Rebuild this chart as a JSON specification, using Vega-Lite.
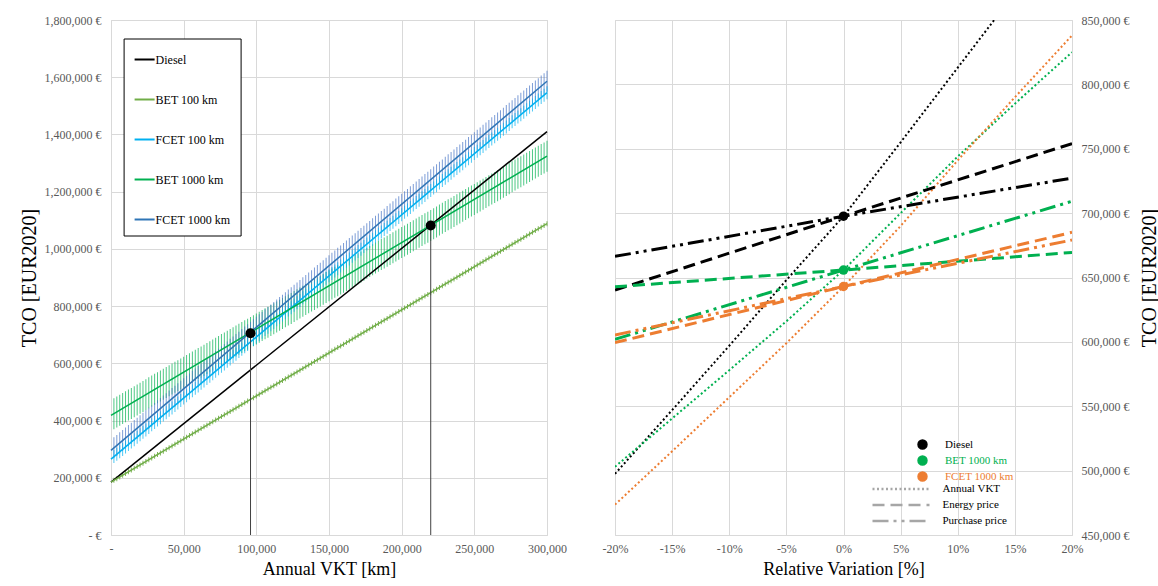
{
"$schema": "https://vega.github.io/schema/vega-lite/v6.json",
"background": "white",
"padding": {"left": 18, "top": 13, "right": 2, "bottom": 2},
"spacing": 68,
"bounds": "flush",
"config": {
  "font": "Liberation Serif",
  "view": {"stroke": "#d9d9d9"},
  "axis": {"labelFont": "Liberation Serif", "titleFont": "Liberation Serif", "labelFontSize": 12, "labelColor": "#595959", "labelFlush": false, "titleFontSize": 18, "titleFontWeight": "normal", "titleColor": "#000000", "gridColor": "#d9d9d9", "domain": false, "ticks": false},
  "legend": {"labelFont": "Liberation Serif", "labelColor": "#000000", "title": null}
},
"datasets": {
  "lines": [
    {"v": 0, "tco": 185000, "series": "Diesel"}, {"v": 300000, "tco": 1410000, "series": "Diesel"},
    {"v": 0, "tco": 185000, "series": "BET 100 km"}, {"v": 300000, "tco": 1088000, "series": "BET 100 km"},
    {"v": 0, "tco": 265000, "series": "FCET 100 km"}, {"v": 300000, "tco": 1546000, "series": "FCET 100 km"},
    {"v": 0, "tco": 418000, "series": "BET 1000 km"}, {"v": 300000, "tco": 1324000, "series": "BET 1000 km"},
    {"v": 0, "tco": 296000, "series": "FCET 1000 km"}, {"v": 300000, "tco": 1586000, "series": "FCET 1000 km"}
  ],
  "dots": [{"v": 96000, "tco": 705000}, {"v": 220000, "tco": 1082000}],
  "ticks": [
{"v":2000,"b1":191000,"f1":274000,"b2":424000,"f2":305000},
{"v":4000,"b1":197000,"f1":282000,"b2":430000,"f2":313000},
{"v":6000,"b1":203000,"f1":291000,"b2":436000,"f2":322000},
{"v":8000,"b1":209000,"f1":299000,"b2":442000,"f2":330000},
{"v":10000,"b1":215000,"f1":308000,"b2":448000,"f2":339000},
{"v":12000,"b1":221000,"f1":316000,"b2":454000,"f2":348000},
{"v":14000,"b1":227000,"f1":325000,"b2":460000,"f2":356000},
{"v":16000,"b1":233000,"f1":333000,"b2":466000,"f2":365000},
{"v":18000,"b1":239000,"f1":342000,"b2":472000,"f2":373000},
{"v":20000,"b1":245000,"f1":350000,"b2":478000,"f2":382000},
{"v":22000,"b1":251000,"f1":359000,"b2":484000,"f2":391000},
{"v":24000,"b1":257000,"f1":367000,"b2":490000,"f2":399000},
{"v":26000,"b1":263000,"f1":376000,"b2":497000,"f2":408000},
{"v":28000,"b1":269000,"f1":385000,"b2":503000,"f2":416000},
{"v":30000,"b1":275000,"f1":393000,"b2":509000,"f2":425000},
{"v":32000,"b1":281000,"f1":402000,"b2":515000,"f2":434000},
{"v":34000,"b1":287000,"f1":410000,"b2":521000,"f2":442000},
{"v":36000,"b1":293000,"f1":419000,"b2":527000,"f2":451000},
{"v":38000,"b1":299000,"f1":427000,"b2":533000,"f2":459000},
{"v":40000,"b1":305000,"f1":436000,"b2":539000,"f2":468000},
{"v":42000,"b1":311000,"f1":444000,"b2":545000,"f2":477000},
{"v":44000,"b1":317000,"f1":453000,"b2":551000,"f2":485000},
{"v":46000,"b1":323000,"f1":461000,"b2":557000,"f2":494000},
{"v":48000,"b1":329000,"f1":470000,"b2":563000,"f2":502000},
{"v":50000,"b1":336000,"f1":479000,"b2":569000,"f2":511000},
{"v":52000,"b1":342000,"f1":487000,"b2":575000,"f2":520000},
{"v":54000,"b1":348000,"f1":496000,"b2":581000,"f2":528000},
{"v":56000,"b1":354000,"f1":504000,"b2":587000,"f2":537000},
{"v":58000,"b1":360000,"f1":513000,"b2":593000,"f2":545000},
{"v":60000,"b1":366000,"f1":521000,"b2":599000,"f2":554000},
{"v":62000,"b1":372000,"f1":530000,"b2":605000,"f2":563000},
{"v":64000,"b1":378000,"f1":538000,"b2":611000,"f2":571000},
{"v":66000,"b1":384000,"f1":547000,"b2":617000,"f2":580000},
{"v":68000,"b1":390000,"f1":555000,"b2":623000,"f2":588000},
{"v":70000,"b1":396000,"f1":564000,"b2":629000,"f2":597000},
{"v":72000,"b1":402000,"f1":572000,"b2":635000,"f2":606000},
{"v":74000,"b1":408000,"f1":581000,"b2":641000,"f2":614000},
{"v":76000,"b1":414000,"f1":590000,"b2":648000,"f2":623000},
{"v":78000,"b1":420000,"f1":598000,"b2":654000,"f2":631000},
{"v":80000,"b1":426000,"f1":607000,"b2":660000,"f2":640000},
{"v":82000,"b1":432000,"f1":615000,"b2":666000,"f2":649000},
{"v":84000,"b1":438000,"f1":624000,"b2":672000,"f2":657000},
{"v":86000,"b1":444000,"f1":632000,"b2":678000,"f2":666000},
{"v":88000,"b1":450000,"f1":641000,"b2":684000,"f2":674000},
{"v":90000,"b1":456000,"f1":649000,"b2":690000,"f2":683000},
{"v":92000,"b1":462000,"f1":658000,"b2":696000,"f2":692000},
{"v":94000,"b1":468000,"f1":666000,"b2":702000,"f2":700000},
{"v":96000,"b1":474000,"f1":675000,"b2":708000,"f2":709000},
{"v":98000,"b1":480000,"f1":683000,"b2":714000,"f2":717000},
{"v":100000,"b1":486000,"f1":692000,"b2":720000,"f2":726000},
{"v":102000,"b1":492000,"f1":701000,"b2":726000,"f2":735000},
{"v":104000,"b1":498000,"f1":709000,"b2":732000,"f2":743000},
{"v":106000,"b1":504000,"f1":718000,"b2":738000,"f2":752000},
{"v":108000,"b1":510000,"f1":726000,"b2":744000,"f2":760000},
{"v":110000,"b1":516000,"f1":735000,"b2":750000,"f2":769000},
{"v":112000,"b1":522000,"f1":743000,"b2":756000,"f2":778000},
{"v":114000,"b1":528000,"f1":752000,"b2":762000,"f2":786000},
{"v":116000,"b1":534000,"f1":760000,"b2":768000,"f2":795000},
{"v":118000,"b1":540000,"f1":769000,"b2":774000,"f2":803000},
{"v":120000,"b1":546000,"f1":777000,"b2":780000,"f2":812000},
{"v":122000,"b1":552000,"f1":786000,"b2":786000,"f2":821000},
{"v":124000,"b1":558000,"f1":794000,"b2":792000,"f2":829000},
{"v":126000,"b1":564000,"f1":803000,"b2":799000,"f2":838000},
{"v":128000,"b1":570000,"f1":812000,"b2":805000,"f2":846000},
{"v":130000,"b1":576000,"f1":820000,"b2":811000,"f2":855000},
{"v":132000,"b1":582000,"f1":829000,"b2":817000,"f2":864000},
{"v":134000,"b1":588000,"f1":837000,"b2":823000,"f2":872000},
{"v":136000,"b1":594000,"f1":846000,"b2":829000,"f2":881000},
{"v":138000,"b1":600000,"f1":854000,"b2":835000,"f2":889000},
{"v":140000,"b1":606000,"f1":863000,"b2":841000,"f2":898000},
{"v":142000,"b1":612000,"f1":871000,"b2":847000,"f2":907000},
{"v":144000,"b1":618000,"f1":880000,"b2":853000,"f2":915000},
{"v":146000,"b1":624000,"f1":888000,"b2":859000,"f2":924000},
{"v":148000,"b1":630000,"f1":897000,"b2":865000,"f2":932000},
{"v":150000,"b1":637000,"f1":906000,"b2":871000,"f2":941000},
{"v":152000,"b1":643000,"f1":914000,"b2":877000,"f2":950000},
{"v":154000,"b1":649000,"f1":923000,"b2":883000,"f2":958000},
{"v":156000,"b1":655000,"f1":931000,"b2":889000,"f2":967000},
{"v":158000,"b1":661000,"f1":940000,"b2":895000,"f2":975000},
{"v":160000,"b1":667000,"f1":948000,"b2":901000,"f2":984000},
{"v":162000,"b1":673000,"f1":957000,"b2":907000,"f2":993000},
{"v":164000,"b1":679000,"f1":965000,"b2":913000,"f2":1001000},
{"v":166000,"b1":685000,"f1":974000,"b2":919000,"f2":1010000},
{"v":168000,"b1":691000,"f1":982000,"b2":925000,"f2":1018000},
{"v":170000,"b1":697000,"f1":991000,"b2":931000,"f2":1027000},
{"v":172000,"b1":703000,"f1":999000,"b2":937000,"f2":1036000},
{"v":174000,"b1":709000,"f1":1008000,"b2":943000,"f2":1044000},
{"v":176000,"b1":715000,"f1":1017000,"b2":950000,"f2":1053000},
{"v":178000,"b1":721000,"f1":1025000,"b2":956000,"f2":1061000},
{"v":180000,"b1":727000,"f1":1034000,"b2":962000,"f2":1070000},
{"v":182000,"b1":733000,"f1":1042000,"b2":968000,"f2":1079000},
{"v":184000,"b1":739000,"f1":1051000,"b2":974000,"f2":1087000},
{"v":186000,"b1":745000,"f1":1059000,"b2":980000,"f2":1096000},
{"v":188000,"b1":751000,"f1":1068000,"b2":986000,"f2":1104000},
{"v":190000,"b1":757000,"f1":1076000,"b2":992000,"f2":1113000},
{"v":192000,"b1":763000,"f1":1085000,"b2":998000,"f2":1122000},
{"v":194000,"b1":769000,"f1":1093000,"b2":1004000,"f2":1130000},
{"v":196000,"b1":775000,"f1":1102000,"b2":1010000,"f2":1139000},
{"v":198000,"b1":781000,"f1":1110000,"b2":1016000,"f2":1147000},
{"v":200000,"b1":787000,"f1":1119000,"b2":1022000,"f2":1156000},
{"v":202000,"b1":793000,"f1":1128000,"b2":1028000,"f2":1165000},
{"v":204000,"b1":799000,"f1":1136000,"b2":1034000,"f2":1173000},
{"v":206000,"b1":805000,"f1":1145000,"b2":1040000,"f2":1182000},
{"v":208000,"b1":811000,"f1":1153000,"b2":1046000,"f2":1190000},
{"v":210000,"b1":817000,"f1":1162000,"b2":1052000,"f2":1199000},
{"v":212000,"b1":823000,"f1":1170000,"b2":1058000,"f2":1208000},
{"v":214000,"b1":829000,"f1":1179000,"b2":1064000,"f2":1216000},
{"v":216000,"b1":835000,"f1":1187000,"b2":1070000,"f2":1225000},
{"v":218000,"b1":841000,"f1":1196000,"b2":1076000,"f2":1233000},
{"v":220000,"b1":847000,"f1":1204000,"b2":1082000,"f2":1242000},
{"v":222000,"b1":853000,"f1":1213000,"b2":1088000,"f2":1251000},
{"v":224000,"b1":859000,"f1":1221000,"b2":1094000,"f2":1259000},
{"v":226000,"b1":865000,"f1":1230000,"b2":1101000,"f2":1268000},
{"v":228000,"b1":871000,"f1":1239000,"b2":1107000,"f2":1276000},
{"v":230000,"b1":877000,"f1":1247000,"b2":1113000,"f2":1285000},
{"v":232000,"b1":883000,"f1":1256000,"b2":1119000,"f2":1294000},
{"v":234000,"b1":889000,"f1":1264000,"b2":1125000,"f2":1302000},
{"v":236000,"b1":895000,"f1":1273000,"b2":1131000,"f2":1311000},
{"v":238000,"b1":901000,"f1":1281000,"b2":1137000,"f2":1319000},
{"v":240000,"b1":907000,"f1":1290000,"b2":1143000,"f2":1328000},
{"v":242000,"b1":913000,"f1":1298000,"b2":1149000,"f2":1337000},
{"v":244000,"b1":919000,"f1":1307000,"b2":1155000,"f2":1345000},
{"v":246000,"b1":925000,"f1":1315000,"b2":1161000,"f2":1354000},
{"v":248000,"b1":931000,"f1":1324000,"b2":1167000,"f2":1362000},
{"v":250000,"b1":938000,"f1":1333000,"b2":1173000,"f2":1371000},
{"v":252000,"b1":944000,"f1":1341000,"b2":1179000,"f2":1380000},
{"v":254000,"b1":950000,"f1":1350000,"b2":1185000,"f2":1388000},
{"v":256000,"b1":956000,"f1":1358000,"b2":1191000,"f2":1397000},
{"v":258000,"b1":962000,"f1":1367000,"b2":1197000,"f2":1405000},
{"v":260000,"b1":968000,"f1":1375000,"b2":1203000,"f2":1414000},
{"v":262000,"b1":974000,"f1":1384000,"b2":1209000,"f2":1423000},
{"v":264000,"b1":980000,"f1":1392000,"b2":1215000,"f2":1431000},
{"v":266000,"b1":986000,"f1":1401000,"b2":1221000,"f2":1440000},
{"v":268000,"b1":992000,"f1":1409000,"b2":1227000,"f2":1448000},
{"v":270000,"b1":998000,"f1":1418000,"b2":1233000,"f2":1457000},
{"v":272000,"b1":1004000,"f1":1426000,"b2":1239000,"f2":1466000},
{"v":274000,"b1":1010000,"f1":1435000,"b2":1245000,"f2":1474000},
{"v":276000,"b1":1016000,"f1":1444000,"b2":1252000,"f2":1483000},
{"v":278000,"b1":1022000,"f1":1452000,"b2":1258000,"f2":1491000},
{"v":280000,"b1":1028000,"f1":1461000,"b2":1264000,"f2":1500000},
{"v":282000,"b1":1034000,"f1":1469000,"b2":1270000,"f2":1509000},
{"v":284000,"b1":1040000,"f1":1478000,"b2":1276000,"f2":1517000},
{"v":286000,"b1":1046000,"f1":1486000,"b2":1282000,"f2":1526000},
{"v":288000,"b1":1052000,"f1":1495000,"b2":1288000,"f2":1534000},
{"v":290000,"b1":1058000,"f1":1503000,"b2":1294000,"f2":1543000},
{"v":292000,"b1":1064000,"f1":1512000,"b2":1300000,"f2":1552000},
{"v":294000,"b1":1070000,"f1":1520000,"b2":1306000,"f2":1560000},
{"v":296000,"b1":1076000,"f1":1529000,"b2":1312000,"f2":1569000},
{"v":298000,"b1":1082000,"f1":1537000,"b2":1318000,"f2":1577000},
{"v":300000,"b1":1088000,"f1":1546000,"b2":1324000,"f2":1586000}
  ],
  "sens": [
    {"pct": -0.2, "tco": 497500, "vehicle": "Diesel", "param": "Annual VKT"},
    {"pct": -0.15, "tco": 547000, "vehicle": "Diesel", "param": "Annual VKT"},
    {"pct": -0.1, "tco": 597000, "vehicle": "Diesel", "param": "Annual VKT"},
    {"pct": -0.05, "tco": 648000, "vehicle": "Diesel", "param": "Annual VKT"},
    {"pct": 0, "tco": 697600, "vehicle": "Diesel", "param": "Annual VKT"},
    {"pct": 0.05, "tco": 755000, "vehicle": "Diesel", "param": "Annual VKT"},
    {"pct": 0.1, "tco": 813000, "vehicle": "Diesel", "param": "Annual VKT"},
    {"pct": 0.15, "tco": 871000, "vehicle": "Diesel", "param": "Annual VKT"},
    {"pct": -0.2, "tco": 640200, "vehicle": "Diesel", "param": "Energy price"},
    {"pct": 0, "tco": 697600, "vehicle": "Diesel", "param": "Energy price"},
    {"pct": 0.2, "tco": 754000, "vehicle": "Diesel", "param": "Energy price"},
    {"pct": -0.2, "tco": 666400, "vehicle": "Diesel", "param": "Purchase price"},
    {"pct": 0, "tco": 697600, "vehicle": "Diesel", "param": "Purchase price"},
    {"pct": 0.2, "tco": 727200, "vehicle": "Diesel", "param": "Purchase price"},
    {"pct": -0.2, "tco": 503000, "vehicle": "BET 1000 km", "param": "Annual VKT"},
    {"pct": -0.15, "tco": 540500, "vehicle": "BET 1000 km", "param": "Annual VKT"},
    {"pct": -0.1, "tco": 578000, "vehicle": "BET 1000 km", "param": "Annual VKT"},
    {"pct": -0.05, "tco": 616000, "vehicle": "BET 1000 km", "param": "Annual VKT"},
    {"pct": 0, "tco": 655800, "vehicle": "BET 1000 km", "param": "Annual VKT"},
    {"pct": 0.05, "tco": 700000, "vehicle": "BET 1000 km", "param": "Annual VKT"},
    {"pct": 0.1, "tco": 744000, "vehicle": "BET 1000 km", "param": "Annual VKT"},
    {"pct": 0.15, "tco": 785000, "vehicle": "BET 1000 km", "param": "Annual VKT"},
    {"pct": 0.2, "tco": 825000, "vehicle": "BET 1000 km", "param": "Annual VKT"},
    {"pct": -0.2, "tco": 642800, "vehicle": "BET 1000 km", "param": "Energy price"},
    {"pct": 0, "tco": 655800, "vehicle": "BET 1000 km", "param": "Energy price"},
    {"pct": 0.2, "tco": 669500, "vehicle": "BET 1000 km", "param": "Energy price"},
    {"pct": -0.2, "tco": 602000, "vehicle": "BET 1000 km", "param": "Purchase price"},
    {"pct": 0, "tco": 655800, "vehicle": "BET 1000 km", "param": "Purchase price"},
    {"pct": 0.2, "tco": 709200, "vehicle": "BET 1000 km", "param": "Purchase price"},
    {"pct": -0.2, "tco": 473600, "vehicle": "FCET 1000 km", "param": "Annual VKT"},
    {"pct": -0.15, "tco": 515000, "vehicle": "FCET 1000 km", "param": "Annual VKT"},
    {"pct": -0.1, "tco": 557000, "vehicle": "FCET 1000 km", "param": "Annual VKT"},
    {"pct": -0.05, "tco": 599000, "vehicle": "FCET 1000 km", "param": "Annual VKT"},
    {"pct": 0, "tco": 643000, "vehicle": "FCET 1000 km", "param": "Annual VKT"},
    {"pct": 0.05, "tco": 690000, "vehicle": "FCET 1000 km", "param": "Annual VKT"},
    {"pct": 0.1, "tco": 741000, "vehicle": "FCET 1000 km", "param": "Annual VKT"},
    {"pct": 0.15, "tco": 790000, "vehicle": "FCET 1000 km", "param": "Annual VKT"},
    {"pct": 0.2, "tco": 838000, "vehicle": "FCET 1000 km", "param": "Annual VKT"},
    {"pct": -0.2, "tco": 599400, "vehicle": "FCET 1000 km", "param": "Energy price"},
    {"pct": 0, "tco": 643000, "vehicle": "FCET 1000 km", "param": "Energy price"},
    {"pct": 0.2, "tco": 685100, "vehicle": "FCET 1000 km", "param": "Energy price"},
    {"pct": -0.2, "tco": 605400, "vehicle": "FCET 1000 km", "param": "Purchase price"},
    {"pct": 0, "tco": 643000, "vehicle": "FCET 1000 km", "param": "Purchase price"},
    {"pct": 0.2, "tco": 679100, "vehicle": "FCET 1000 km", "param": "Purchase price"}
  ],
  "base": [
    {"pct": 0, "tco": 697600, "vehicle": "Diesel"},
    {"pct": 0, "tco": 655800, "vehicle": "BET 1000 km"},
    {"pct": 0, "tco": 643000, "vehicle": "FCET 1000 km"}
  ]
},
"hconcat": [
  {
    "width": 436, "height": 515,
    "encoding": {
      "x": {"field": "v", "type": "quantitative", "scale": {"domain": [0, 300000], "nice": false}, "axis": {"values": [0, 50000, 100000, 150000, 200000, 250000, 300000], "labelExpr": "datum.value == 0 ? '-' : format(datum.value, ',')", "title": "Annual VKT [km]", "labelPadding": 8, "titlePadding": 6}},
      "y": {"field": "tco", "type": "quantitative", "scale": {"domain": [0, 1800000], "nice": false}, "axis": {"values": [0, 200000, 400000, 600000, 800000, 1000000, 1200000, 1400000, 1600000, 1800000], "labelExpr": "datum.value == 0 ? '-  €' : format(datum.value, ',') + ' €'", "title": "TCO [EUR2020]", "titleFontSize": 20, "labelPadding": 10, "titlePadding": 5}}
    },
    "layer": [
      {"data": {"name": "ticks"}, "transform": [{"fold": ["b2"], "as": ["key", "tco"]}], "mark": {"type": "tick", "orient": "vertical", "size": 31, "thickness": 1, "color": "#00B050", "opacity": 0.7}},
      {"data": {"name": "ticks"}, "transform": [{"fold": ["f2"], "as": ["key", "tco"]}], "mark": {"type": "tick", "orient": "vertical", "size": 21, "thickness": 1, "color": "#4472C4", "opacity": 0.7}},
      {"data": {"name": "ticks"}, "transform": [{"fold": ["f1"], "as": ["key", "tco"]}], "mark": {"type": "tick", "orient": "vertical", "size": 13, "thickness": 1, "color": "#00B0F0", "opacity": 0.7}},
      {"data": {"name": "ticks"}, "transform": [{"fold": ["b1"], "as": ["key", "tco"]}], "mark": {"type": "tick", "orient": "vertical", "size": 5, "thickness": 1, "color": "#70AD47", "opacity": 0.9}},
      {"data": {"name": "lines"}, "mark": {"type": "line", "strokeWidth": 1.5},
       "encoding": {
         "color": {"field": "series", "type": "nominal", "scale": {"domain": ["Diesel", "BET 100 km", "FCET 100 km", "BET 1000 km", "FCET 1000 km"], "range": ["#000000", "#70AD47", "#00B0F0", "#00B050", "#2E75B6"]},
           "legend": {"orient": "none", "legendX": 12.6, "legendY": 18.5, "symbolType": "stroke", "symbolSize": 400, "symbolStrokeWidth": 2, "labelFontSize": 12, "labelOffset": 0, "rowPadding": 23, "padding": 10, "strokeColor": "#000000", "fillColor": "#ffffff"}}
       }},
      {"data": {"name": "dots"}, "mark": {"type": "rule", "color": "#404040", "strokeWidth": 1},
       "encoding": {"y2": {"datum": 0}}},
      {"data": {"name": "dots"}, "mark": {"type": "circle", "size": 100, "color": "#000000", "opacity": 1}}
    ]
  },
  {
    "width": 457, "height": 515,
    "encoding": {
      "x": {"field": "pct", "type": "quantitative", "scale": {"domain": [-0.2, 0.2], "nice": false}, "axis": {"values": [-0.2, -0.15, -0.1, -0.05, 0, 0.05, 0.1, 0.15, 0.2], "labelExpr": "(datum.value < 0 ? '-' : '') + round(abs(datum.value) * 100) + '%'", "title": "Relative Variation [%]", "labelPadding": 8, "titlePadding": 6}},
      "y": {"field": "tco", "type": "quantitative", "scale": {"domain": [450000, 850000], "nice": false}, "axis": {"orient": "right", "values": [450000, 500000, 550000, 600000, 650000, 700000, 750000, 800000, 850000], "labelExpr": "format(datum.value, ',') + ' €'", "title": "TCO [EUR2020]", "titleFontSize": 20, "titleAngle": 270, "titleBaseline": "top", "labelPadding": 9, "titlePadding": 10}}
    },
    "layer": [
      {"data": {"values": [{}]}, "mark": {"type": "rule", "color": "#a0a0a0", "strokeWidth": 1},
       "encoding": {"x": {"datum": 0, "type": "quantitative"}, "y": {"datum": 450000, "type": "quantitative"}, "y2": {"datum": 850000}}},
      {"data": {"name": "sens"}, "transform": [{"filter": "datum.param == 'Annual VKT'"}], "mark": {"type": "line", "strokeWidth": 2, "clip": true},
       "encoding": {
         "stroke": {"field": "vehicle", "type": "nominal", "scale": {"domain": ["Diesel", "BET 1000 km", "FCET 1000 km"], "range": ["#000000", "#00B050", "#ED7D31"]}},
         "strokeDash": {"field": "param", "type": "nominal", "scale": {"domain": ["Annual VKT", "Energy price", "Purchase price"], "range": [[2, 2.5], [12, 6], [16, 5, 3, 5, 3, 5]]},
           "legend": {"orient": "none", "legendX": 783.5, "legendY": 462.5, "symbolType": "M-5.7,0L5.7,0", "symbolSize": 100, "symbolStrokeColor": "#a6a6a6", "symbolFillColor": "transparent", "symbolStrokeWidth": 2.5, "labelFontSize": 11, "labelOffset": 35, "rowPadding": 4, "padding": 0}}
       }},
      {"data": {"name": "sens"}, "transform": [{"filter": "datum.param != 'Annual VKT'"}], "mark": {"type": "line", "strokeWidth": 3, "clip": true},
       "encoding": {
         "stroke": {"field": "vehicle", "type": "nominal", "scale": {"domain": ["Diesel", "BET 1000 km", "FCET 1000 km"], "range": ["#000000", "#00B050", "#ED7D31"]}},
         "strokeDash": {"field": "param", "type": "nominal", "scale": {"domain": ["Annual VKT", "Energy price", "Purchase price"], "range": [[2, 2.5], [12, 6], [16, 5, 3, 5, 3, 5]]},
           "legend": {"orient": "none", "legendX": 783.5, "legendY": 462.5, "symbolType": "M-5.7,0L5.7,0", "symbolSize": 100, "symbolStrokeColor": "#a6a6a6", "symbolFillColor": "transparent", "symbolStrokeWidth": 2.5, "labelFontSize": 11, "labelOffset": 35, "rowPadding": 4, "padding": 0}}
       }},
      {"data": {"name": "base"}, "mark": {"type": "circle", "size": 90, "opacity": 1},
       "encoding": {
         "fill": {"field": "vehicle", "type": "nominal", "scale": {"domain": ["Diesel", "BET 1000 km", "FCET 1000 km"], "range": ["#000000", "#00B050", "#ED7D31"]},
           "legend": {"orient": "none", "legendX": 806, "legendY": 419, "symbolType": "circle", "symbolSize": 80, "labelFontSize": 11, "labelOffset": 17, "rowPadding": 1, "padding": 0,
             "labelColor": {"expr": "datum.value == 'BET 1000 km' ? '#00B050' : datum.value == 'FCET 1000 km' ? '#ED7D31' : '#000000'"},
             "encode": {
               "labels": {"update": {"fill": {"signal": "datum.value == 'BET 1000 km' ? '#00B050' : datum.value == 'FCET 1000 km' ? '#ED7D31' : '#000000'"}}},
               "symbols": {"update": {"fill": {"signal": "datum.value == 'BET 1000 km' ? '#00B050' : datum.value == 'FCET 1000 km' ? '#ED7D31' : '#000000'"}, "stroke": {"signal": "datum.value == 'BET 1000 km' ? '#00B050' : datum.value == 'FCET 1000 km' ? '#ED7D31' : '#000000'"}, "opacity": {"value": 1}}}
             }}}
       }}
    ]
  }
]
}
